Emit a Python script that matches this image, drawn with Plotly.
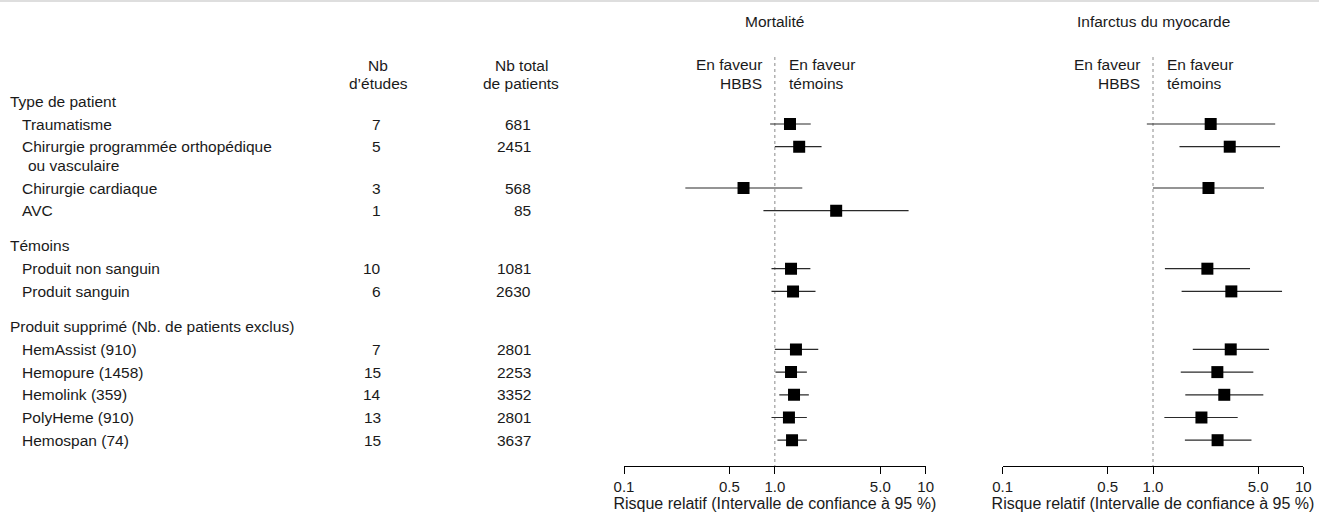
import math
import plotly.graph_objects as go

# ---------------- data ----------------
group_titles = ["Type de patient", "Témoins", "Produit supprimé (Nb. de patients exclus)"]
row_group = [0, 0, 0, 0, 1, 1, 2, 2, 2, 2, 2]
row_labels = [
    ["Traumatisme"],
    ["Chirurgie programmée orthopédique", "ou vasculaire"],
    ["Chirurgie cardiaque"],
    ["AVC"],
    ["Produit non sanguin"],
    ["Produit sanguin"],
    ["HemAssist (910)"],
    ["Hemopure (1458)"],
    ["Hemolink (359)"],
    ["PolyHeme (910)"],
    ["Hemospan (74)"],
]
n_etudes = [7, 5, 3, 1, 10, 6, 7, 15, 14, 13, 15]
n_patients = [681, 2451, 568, 85, 1081, 2630, 2801, 2253, 3352, 2801, 3637]

mort_rr = [1.26, 1.45, 0.62, 2.55, 1.28, 1.32, 1.38, 1.28, 1.34, 1.24, 1.30]
mort_lo = [0.93, 1.00, 0.255, 0.84, 0.95, 0.95, 1.00, 1.01, 1.07, 0.95, 1.04]
mort_hi = [1.73, 2.04, 1.52, 7.7, 1.72, 1.86, 1.94, 1.63, 1.68, 1.63, 1.63]

mi_rr = [2.42, 3.24, 2.34, None, 2.30, 3.32, 3.29, 2.68, 2.98, 2.10, 2.69]
mi_lo = [0.91, 1.50, 1.00, None, 1.20, 1.55, 1.84, 1.53, 1.64, 1.19, 1.63]
mi_hi = [6.5, 7.0, 5.48, None, 4.42, 7.22, 5.92, 4.65, 5.42, 3.66, 4.52]

tick_vals = [0.1, 0.5, 1, 5, 10]
tick_text = ["0.1", "0.5", "1.0", "5.0", "10"]
panel_titles = ["Mortalité", "Infarctus du myocarde"]
axis_title = "Risque relatif (Intervalle de confiance à 95 %)"
col_headers = [["Nb", "d’études"], ["Nb total", "de patients"]]

# ---------------- layout geometry (pixel rows) ----------------
W, H = 1319, 521
PLOT_BOTTOM = 466
FIRST_HEADER = 101
HEADER_TO_ROW = 23
ROW_STEP = 22.7
EXTRA_LINE = 18.6
GROUP_GAP = 35

header_y = []
row_y = []
y = FIRST_HEADER
prev_group = None
for i, g in enumerate(row_group):
    if g != prev_group:
        if prev_group is not None:
            y = row_y[-1] + (len(row_labels[i - 1]) - 1) * EXTRA_LINE + GROUP_GAP
        header_y.append(y)
        y = y + HEADER_TO_ROW
        prev_group = g
    else:
        y = row_y[-1] + ROW_STEP + (len(row_labels[i - 1]) - 1) * EXTRA_LINE
    row_y.append(y)

FONT = "Liberation Sans, Arial, Helvetica, sans-serif"
TXT = "#1a1a1a"
FS = 15.5

fig = go.Figure()

def add_panel(rr, lo, hi, xa):
    xs, ys = [], []
    for r, l, h, yy in zip(rr, lo, hi, row_y):
        if r is None:
            continue
        xs += [l, h, None]
        ys += [yy, yy, None]
    fig.add_trace(go.Scatter(x=xs, y=ys, mode="lines", xaxis=xa, yaxis="y",
                             line=dict(color="#2a2a2a", width=1.2),
                             hoverinfo="skip", showlegend=False))
    px = [r for r in rr if r is not None]
    py = [yy for r, yy in zip(rr, row_y) if r is not None]
    fig.add_trace(go.Scatter(x=px, y=py, mode="markers", xaxis=xa, yaxis="y",
                             marker=dict(symbol="square", size=12, color="#000",
                                         line=dict(width=0)),
                             showlegend=False))

add_panel(mort_rr, mort_lo, mort_hi, "x")
add_panel(mi_rr, mi_lo, mi_hi, "x2")

def xaxis_cfg(domain):
    return dict(type="log", range=[-1, 1], domain=domain, anchor="y",
                showline=True, linecolor="#000", linewidth=1,
                ticks="outside", ticklen=7, tickcolor="#000", tickwidth=1,
                tickvals=tick_vals, ticktext=tick_text,
                tickfont=dict(family=FONT, size=15, color=TXT),
                showgrid=False, zeroline=False, automargin=False,
                title=dict(text=axis_title, font=dict(family=FONT, size=16, color=TXT),
                           standoff=2),
                fixedrange=True)

ann = []
def text(x, yy, s, anchor="left", xref="paper", size=FS):
    ann.append(dict(x=x, y=yy, xref=xref, yref="y", text=s, showarrow=False,
                    xanchor=anchor, yanchor="middle", align=anchor,
                    font=dict(family=FONT, size=size, color=TXT)))

# column headers
for cx, hdr in zip([378, 521], col_headers):
    text(cx / W, 65, hdr[0], "center")
    text(cx / W, 83, hdr[1], "center")

for gy, gt in zip(header_y, group_titles):
    text(8 / W, gy, gt)

for lines, yy, ne, npat in zip(row_labels, row_y, n_etudes, n_patients):
    text(19.5 / W, yy, lines[0])
    for k, extra in enumerate(lines[1:]):
        text(26 / W, yy + (k + 1) * EXTRA_LINE, extra)
    text(383 / W, yy, str(ne), "right")
    text(533 / W, yy, str(npat), "right")

# panel headers (annotation x on log axes is given in log10 units)
left_edge = math.log10(0.85)
right_edge = math.log10(1.2)
for xa, title in zip(["x", "x2"], panel_titles):
    text(0, 21, title, "center", xref=xa)
    text(left_edge, 64, "En faveur", "right", xref=xa)
    text(left_edge, 83, "HBBS", "right", xref=xa)
    text(right_edge, 64, "En faveur", "left", xref=xa)
    text(right_edge, 83, "témoins", "left", xref=xa)

shapes = [dict(type="line", xref="paper", yref="y", x0=0, x1=1, y0=1, y1=1,
               line=dict(color="#dedede", width=2))]
for xa in ["x", "x2"]:
    shapes.append(dict(type="line", xref=xa, yref="y", x0=1, x1=1, y0=57, y1=PLOT_BOTTOM,
                       line=dict(color="#8a8a8a", width=1, dash="dot"), layer="below"))

fig.update_layout(
    width=W, height=H,
    margin=dict(l=0, r=0, t=0, b=H - PLOT_BOTTOM, autoexpand=False),
    paper_bgcolor="white", plot_bgcolor="white",
    xaxis=xaxis_cfg([624 / W, 925.7 / W]),
    xaxis2=xaxis_cfg([1002.7 / W, 1303.3 / W]),
    yaxis=dict(range=[PLOT_BOTTOM, 0], domain=[0, 1], visible=False, fixedrange=True),
    annotations=ann, shapes=shapes,
    font=dict(family=FONT, color=TXT),
    hovermode=False,
)

fig.write_html("out.html", config={"displayModeBar": False},
               post_script="document.body.style.margin='0';document.body.style.overflow='hidden';")
